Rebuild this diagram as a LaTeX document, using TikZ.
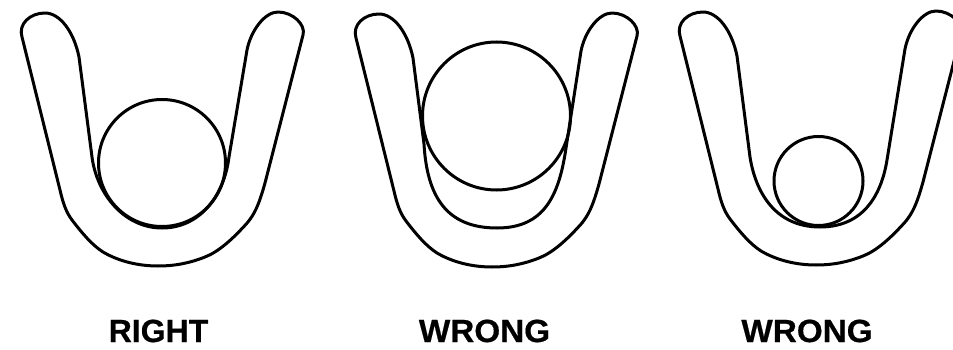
\documentclass[tikz,border=0pt]{standalone}
\usepackage{fontspec}
\setmainfont{Liberation Sans}
\newfontfamily\capfont[FakeBold=0.5]{Liberation Sans Bold}
\newcommand{\bandshape}[3]{%
  \draw[band,shift={(#1,#2)}]
    (22,37) .. controls (18,24) and (30,13) .. (45,13)
    .. controls (60,13) and (74,32) .. (79,57)
    #3
    -- (247,50) .. controls (251,30) and (265,12) .. (278,12)
    .. controls (293,12) and (306,25) .. (303,35)
    -- (265,183) .. controls (258,208) and (254,214) .. (248,222)
    .. controls (232,240) and (218,252) .. (205,257)
    .. controls (190,263) and (175,266) .. (158,266)
    .. controls (140,266) and (120,262) .. (103,252)
    .. controls (92,245) and (82,233) .. (72,220)
    .. controls (66,212) and (63,203) .. (60,190)
    -- cycle;}
\begin{document}
\begin{tikzpicture}[x=1pt,y=-1pt,
  band/.style={line width=3pt,line join=round,black},
  ball/.style={circle,draw=black,line width=3pt,inner sep=0pt,outer sep=0pt},
  caption/.style={font=\capfont\fontsize{32}{36}\selectfont,inner sep=0pt,anchor=base}]
\useasboundingbox (0,0) rectangle (953,350);
\clip (0,0) rectangle (953,350);
\bandshape{0}{0}{-- (92,157) .. controls (97,195) and (125,228) .. (162,228) .. controls (199,228) and (224,197) .. (229,157)}
\bandshape{334}{1}{-- (90,143) .. controls (93,195) and (112,227) .. (163,227) .. controls (210,227) and (225,195) .. (232,147)}
\bandshape{658}{-1}{-- (92,158) .. controls (97,190) and (115,228) .. (162,228) .. controls (208,228) and (224,192) .. (229,161)}
\node[ball,minimum size=127pt] (good) at (162,163) {};
\node[ball,minimum size=148pt] (big) at (496.5,116) {};
\node[ball,minimum size=89pt] (small) at (818.5,181) {};
\node[caption] (right) at (158.5,342) {RIGHT};
\node[caption] (wrong1) at (484.5,342) {\scalebox{1.04}[1]{WRONG}};
\node[caption] (wrong2) at (807,342) {\scalebox{1.04}[1]{WRONG}};
\end{tikzpicture}
\end{document}
